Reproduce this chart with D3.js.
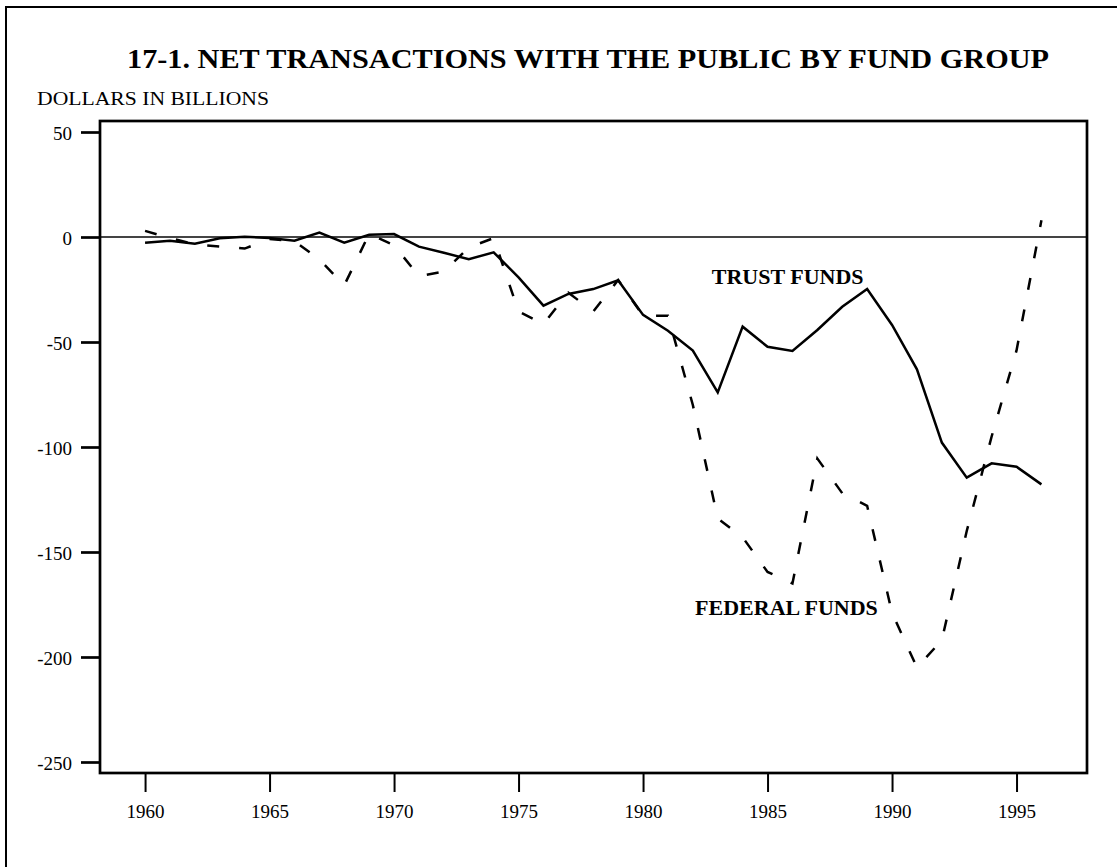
<!DOCTYPE html>
<html>
<head>
<meta charset="utf-8">
<script src="https://cdn.jsdelivr.net/npm/d3@7"></script>
<style>
  html, body { margin: 0; padding: 0; background: #fff; }
  svg { display: block; }
  text { font-family: "Liberation Serif", "Times New Roman", serif; fill: #000; }
</style>
</head>
<body>
<svg id="chart" width="1117" height="867"></svg>
<script>
const years = [1960,1961,1962,1963,1964,1965,1966,1967,1968,1969,1970,1971,1972,1973,1974,1975,1976,1977,1978,1979,1980,1981,1982,1983,1984,1985,1986,1987,1988,1989,1990,1991,1992,1993,1994,1995,1996];
const trustFunds = [-2.7,-1.8,-3.2,-0.6,0.1,-0.5,-1.8,2.1,-2.7,1.1,1.4,-4.6,-7.5,-10.6,-7.3,-19.2,-32.7,-27.1,-24.8,-20.6,-37.1,-44.6,-54.1,-74.0,-42.7,-52.3,-54.3,-44.3,-33.2,-24.8,-41.9,-63.0,-97.9,-114.6,-107.8,-109.4,-117.8];
const federalFunds = [2.9,-0.5,-3.5,-4.5,-5.5,-1.0,-2.0,-10.7,-23.0,1.5,-4.0,-18.6,-16.5,-5.0,-0.5,-35.5,-41.4,-26.5,-35.5,-20.5,-37.5,-37.5,-80.0,-134.0,-143.0,-159.5,-165.0,-105.5,-122.0,-128.0,-179.0,-205.0,-192.0,-140.0,-95.0,-54.0,8.0];
const yTicks = [50,0,-50,-100,-150,-200,-250];
const xTicks = [1960,1965,1970,1975,1980,1985,1990,1995];
const titleText = "17-1. NET TRANSACTIONS WITH THE PUBLIC BY FUND GROUP";
const unitText = "DOLLARS IN BILLIONS";
const seriesLabels = [
  {name: "TRUST FUNDS", year: 1982.76, value: -22.4},
  {name: "FEDERAL FUNDS", year: 1982.09, value: -180.0}
];

const svg = d3.select("#chart");
const box = {left: 100, right: 1087, top: 121, bottom: 773};

const x = d3.scaleLinear().domain([1958.19, 1997.83]).range([box.left, box.right]);
const y = d3.scaleLinear().domain([-255.24, 55.24]).range([box.bottom, box.top]);

// outer frame
svg.append("rect").attr("x", 6).attr("y", 7).attr("width", 1200).attr("height", 1000)
  .attr("fill", "none").attr("stroke", "#000").attr("stroke-width", 2);

// title
svg.append("text").attr("x", 127).attr("y", 68)
  .attr("font-size", 28).attr("font-weight", "bold")
  .attr("textLength", 922).attr("lengthAdjust", "spacingAndGlyphs")
  .text(titleText);

svg.append("text").attr("x", 37).attr("y", 105)
  .attr("font-size", 18)
  .attr("textLength", 232).attr("lengthAdjust", "spacingAndGlyphs")
  .text(unitText);

// zero line
svg.append("line").attr("x1", box.left).attr("x2", box.right)
  .attr("y1", y(0)).attr("y2", y(0))
  .attr("stroke", "#444").attr("stroke-width", 2);

// lines
const line = d3.line().x((d, i) => x(years[i])).y(d => y(d));
svg.append("path").datum(federalFunds).attr("d", line)
  .attr("fill", "none").attr("stroke", "#000").attr("stroke-width", 2.5)
  .attr("stroke-dasharray", "12,20");
svg.append("path").datum(trustFunds).attr("d", line)
  .attr("fill", "none").attr("stroke", "#000").attr("stroke-width", 2.5)
  .attr("stroke-linejoin", "miter");

// box
svg.append("rect").attr("x", box.left).attr("y", box.top)
  .attr("width", box.right - box.left).attr("height", box.bottom - box.top)
  .attr("fill", "none").attr("stroke", "#000").attr("stroke-width", 2.7);

// y axis
const yAxis = svg.append("g").attr("transform", `translate(${box.left},0)`)
  .call(d3.axisLeft(y).tickValues(yTicks).tickSize(19).tickPadding(9).tickFormat(d => String(d)));
yAxis.select(".domain").remove();
yAxis.selectAll("line").attr("stroke", "#000").attr("stroke-width", 2.7);
yAxis.selectAll("text").attr("font-size", 19).attr("dy", "0.42em")
  .style("font-family", "'Liberation Serif', serif");

// x axis
const xAxis = svg.append("g").attr("transform", `translate(0,${box.bottom})`)
  .call(d3.axisBottom(x).tickValues(xTicks).tickSize(19).tickFormat(d => String(d)));
xAxis.select(".domain").remove();
xAxis.selectAll("line").attr("stroke", "#000").attr("stroke-width", 2);
xAxis.selectAll("text").attr("font-size", 19).attr("y", 45).attr("dy", 0)
  .style("font-family", "'Liberation Serif', serif");

// series labels
svg.selectAll(".slabel").data(seriesLabels).enter().append("text")
  .attr("class", "slabel")
  .attr("x", d => x(d.year)).attr("y", d => y(d.value))
  .attr("font-size", 22).attr("font-weight", "bold")
  .text(d => d.name);
</script>
</body>
</html>
